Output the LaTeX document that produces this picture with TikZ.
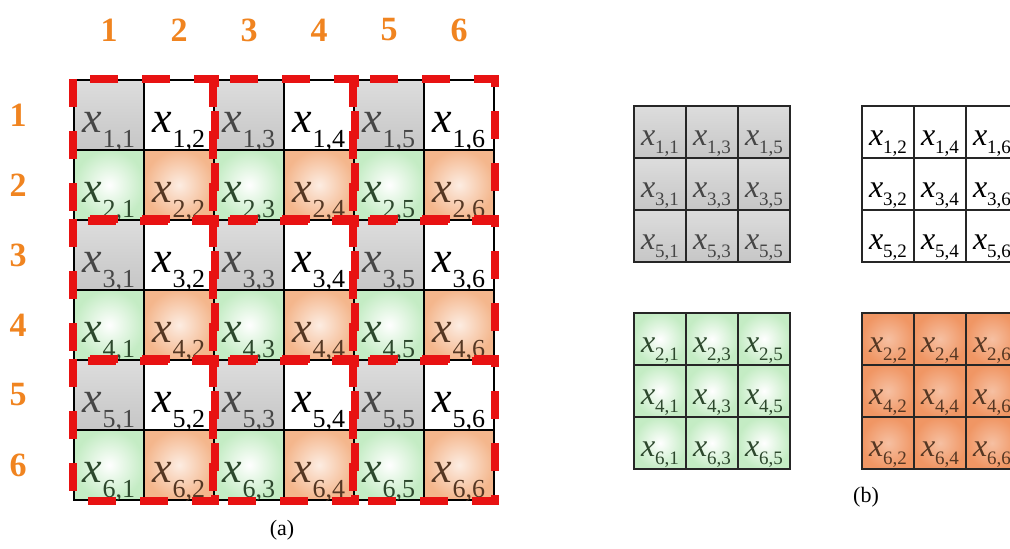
\documentclass[tikz,border=0pt]{standalone}
\usepackage{fontspec}
\setmainfont{Liberation Serif}
\usepackage{xcolor}
\definecolor{cgray}{RGB}{198, 198, 198}
\definecolor{cgreen}{RGB}{196, 236, 196}
\definecolor{corange}{RGB}{244, 182, 140}
\definecolor{corangedeep}{RGB}{240, 150, 100}
\definecolor{cnum}{RGB}{240, 132, 32}
\definecolor{cred}{RGB}{232, 18, 18}
\definecolor{graytxt}{RGB}{70, 70, 70}
\definecolor{greentxt}{RGB}{45, 72, 45}
\definecolor{orangetxt}{RGB}{85, 55, 35}
\usepackage{tikz}
\usetikzlibrary{positioning}

\newcommand{\xbig}[2]{\fontsize{44}{44}\selectfont\textit{x}\raisebox{-15pt}{\fontsize{26}{26}\selectfont #1,#2}}
\newcommand{\xsmall}[2]{\fontsize{32}{32}\selectfont\textit{x}\raisebox{-8pt}{\fontsize{19}{19}\selectfont #1,#2}}

\begin{document}
\begin{tikzpicture}[x=1pt, y=-1pt,
  bigcell/.style={draw=black, line width=1.2pt, minimum width=70pt, minimum height=70pt,
    inner sep=0pt, text height=40pt, text depth=6pt},
  smallcell/.style={draw=black!85, line width=1.8pt, minimum width=52pt, minimum height=52pt,
    inner sep=0pt, text height=30pt, text depth=4pt},
  graycell/.style={top color=cgray!60, bottom color=cgray, text=graytxt},
  whitecell/.style={fill=white, text=black},
  greencell/.style={shading=radial, inner color=white, outer color=cgreen, text=greentxt},
  orangecell/.style={shading=radial, inner color=white!75!corange, outer color=corange, text=orangetxt},
  deepcell/.style={shading=radial, inner color=white!40!corangedeep, outer color=corangedeep, text=orangetxt},
  blockline/.style={draw=cred, line width=8pt, dash pattern=on 28pt off 24pt},
  numlabel/.style={text=cnum, font=\fontsize{34}{34}\selectfont\bfseries},
  caption/.style={font=\fontsize{22}{22}\selectfont}]
  \useasboundingbox (0,0) rectangle (1010,549);
  \clip (0,0) rectangle (1010,549);

  % (a) the 6x6 grid, one 2x2 block per step
  \foreach \i in {1,3,5} {
    \foreach \j in {1,3,5} {
      \pgfmathtruncatemacro\ii{\i+1}
      \pgfmathtruncatemacro\jj{\j+1}
      \node[bigcell, graycell] (a-\i-\j) at (39+70*\j, 45+70*\i) {\xbig{\i}{\j}};
      \node[bigcell, whitecell] (a-\i-\jj) at (39+70*\jj, 45+70*\i) {\xbig{\i}{\jj}};
      \node[bigcell, greencell] (a-\ii-\j) at (39+70*\j, 45+70*\ii) {\xbig{\ii}{\j}};
      \node[bigcell, orangecell] (a-\ii-\jj) at (39+70*\jj, 45+70*\ii) {\xbig{\ii}{\jj}};
    }
  }
  \foreach \i in {1,3,5} {
    \foreach \j in {1,3,5} {
      \pgfmathtruncatemacro\ii{\i+1}
      \pgfmathtruncatemacro\jj{\j+1}
      \draw[blockline] (a-\i-\j.north west) rectangle (a-\ii-\jj.south east);
    }
  }

  % row and column numbers
  \foreach \k in {1,...,6} {
    \node[numlabel] (col-\k) at (39+70*\k, 30) {\k};
    \node[numlabel] (row-\k) at (18, 45+70*\k) {\k};
  }
  \node[caption] (capa) at (282, 530) {(a)};

  % (b) the four sub-grids
  \foreach \r in {1,2,3} {
    \foreach \c in {1,2,3} {
      \pgfmathtruncatemacro\i{2*\r-1}
      \pgfmathtruncatemacro\j{2*\c-1}
      \pgfmathtruncatemacro\ii{2*\r}
      \pgfmathtruncatemacro\jj{2*\c}
      \node[smallcell, graycell] (g-\r-\c) at (608+52*\c, 80+52*\r) {\xsmall{\i}{\j}};
      \node[smallcell, whitecell] (w-\r-\c) at (836+52*\c, 80+52*\r) {\xsmall{\i}{\jj}};
      \node[smallcell, greencell] (n-\r-\c) at (608+52*\c, 287+52*\r) {\xsmall{\ii}{\j}};
      \node[smallcell, deepcell] (o-\r-\c) at (836+52*\c, 287+52*\r) {\xsmall{\ii}{\jj}};
    }
  }
  \node[caption] (capb) at (866, 497) {(b)};
\end{tikzpicture}
\end{document}
